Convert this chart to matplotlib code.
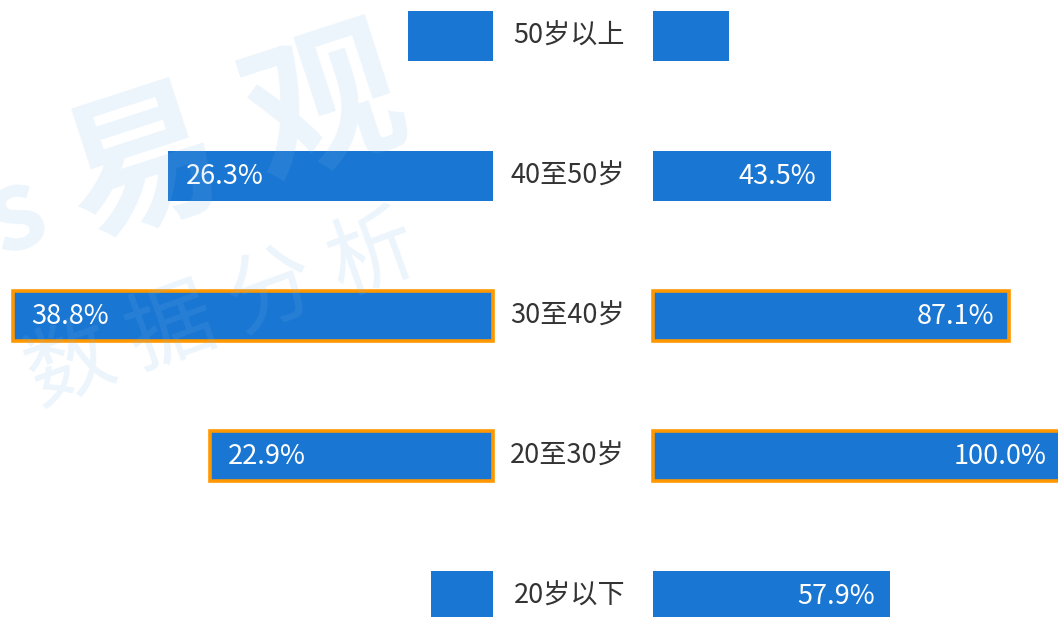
import matplotlib
matplotlib.use("Agg")
import matplotlib.pyplot as plt
import matplotlib.transforms as mtransforms

plt.rcParams['font.family'] = ['Noto Sans CJK SC', 'DejaVu Sans']

# data (top to bottom)
categories = ["50岁以上", "40至50岁", "30至40岁", "20至30岁", "20岁以下"]
left_values = [6.9, 26.3, 38.8, 22.9, 5.0]
right_values = [18.6, 43.5, 87.1, 100.0, 57.9]
highlight = [False, False, True, True, False]

bar_color = "#1976D2"
edge_color = "#FF9800"
label_color = "#333333"

fig = plt.figure(figsize=(10.58, 6.17), dpi=100)

W, H = 1058, 617
# left panel: 0..493 px, right panel: 653..1058 px
ax_l = fig.add_axes([0, 0, 493 / W, 1])
ax_r = fig.add_axes([653 / W, 0, (W - 653) / W, 1])

ylim = (4 + (H - 596) / 140, -36 / 140)
ypos = list(range(len(categories)))

for ax, vals, xlim, min_label, side in [
    (ax_l, left_values, (493 / 12.37, 0), 10, "left"),
    (ax_r, right_values, (0, 405 / 4.09), 25, "right"),
]:
    for y, v, hl in zip(ypos, vals, highlight):
        ax.barh(y, v, height=50 / 140, color=bar_color,
                edgecolor=edge_color if hl else "none",
                linewidth=2.6 if hl else 0, zorder=2, clip_on=False)
        if v >= min_label:
            if side == "left":
                ax.annotate(f"{v:.1f}%", (v, y), xytext=(13, 0),
                            textcoords="offset points", ha="left", va="center",
                            color="white", fontsize=19.5, zorder=4,
                            annotation_clip=False)
            else:
                ax.annotate(f"{v:.1f}%", (v, y), xytext=(-11, 0),
                            textcoords="offset points", ha="right", va="center",
                            color="white", fontsize=19.5, zorder=4,
                            annotation_clip=False)
    ax.set_xlim(*xlim)
    ax.set_ylim(*ylim)
    ax.axis("off")

# category labels in the middle gap
trans = mtransforms.blended_transform_factory(fig.transFigure, ax_l.transData)
for y, c in zip(ypos, categories):
    ax_l.text(625 / W, y, c, transform=trans, ha="right", va="center",
              fontsize=19.5, color=label_color, clip_on=False)

# watermark
wm = "#7FB6EC"
fig.text(235 / W, 1 - 140 / H, "易 观", fontsize=112, fontweight="bold",
         color=wm, alpha=0.15, rotation=18, ha="center", va="center", zorder=10)
fig.text(222 / W, 1 - 312 / H, "数 据 分 析", fontsize=63,
         color=wm, alpha=0.15, rotation=20, ha="center", va="center", zorder=10)
fig.text(15 / W, 1 - 215 / H, "s", fontsize=80, fontweight="bold",
         color=wm, alpha=0.15, rotation=20, ha="center", va="center", zorder=10)

fig.savefig("out.png", dpi=100)
